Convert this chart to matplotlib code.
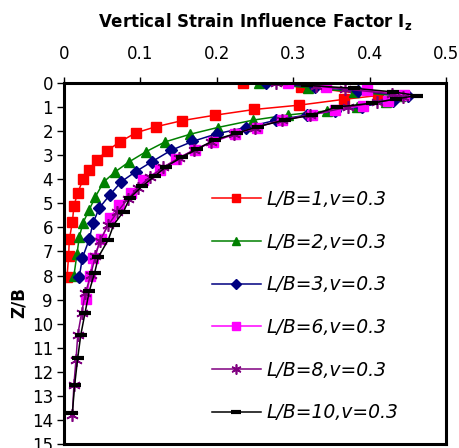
#!/usr/bin/env python3
"""Vertical strain influence factor against depth for several L/B ratios."""

import matplotlib

matplotlib.use("Agg")
import matplotlib.pyplot as plt  # type: ignore

# depth ratio Z/B and influence factor Iz, one pair of lists per L/B
z_lb1 = [0, 0.15, 0.52, 0.68, 0.92, 1.1, 1.34, 1.56, 1.82, 2.07, 2.45, 2.82,
         3.2, 3.6, 4.0, 4.56, 5.1, 5.77, 6.5, 7.2, 8.05]
iz_lb1 = [0.234, 0.31, 0.411, 0.366, 0.308, 0.249, 0.197, 0.155, 0.12, 0.094,
          0.073, 0.056, 0.043, 0.033, 0.025, 0.018, 0.013, 0.011, 0.007, 0.006,
          0.004]

z_lb2 = [0, 0.2, 0.37, 0.55, 0.78, 1.0, 1.16, 1.33, 1.54, 1.85, 2.13, 2.45,
         2.86, 3.28, 3.69, 4.11, 4.73, 5.27, 5.8, 6.4, 7.1, 8.0]
iz_lb2 = [0.255, 0.32, 0.38, 0.44, 0.422, 0.383, 0.344, 0.293, 0.248, 0.201,
          0.165, 0.132, 0.107, 0.085, 0.067, 0.052, 0.041, 0.033, 0.025, 0.02,
          0.017, 0.013]

z_lb3 = [0, 0.17, 0.32, 0.55, 0.75, 0.98, 1.15, 1.33, 1.54, 1.85, 2.11, 2.43,
         2.8, 3.27, 3.68, 4.1, 4.65, 5.2, 5.82, 6.5, 7.27, 8.06]
iz_lb3 = [0.264, 0.329, 0.385, 0.45, 0.43, 0.39, 0.355, 0.318, 0.278, 0.238,
          0.2, 0.168, 0.14, 0.115, 0.094, 0.075, 0.06, 0.046, 0.038, 0.033,
          0.024, 0.02]

z_lb6 = [0, 0.18, 0.29, 0.5, 0.73, 0.94, 1.12, 1.33, 1.54, 1.85, 2.12, 2.45,
         2.78, 3.17, 3.61, 4.02, 4.55, 5.06, 5.61, 6.5, 7.27, 8.04, 8.97]
iz_lb6 = [0.293, 0.343, 0.396, 0.445, 0.424, 0.391, 0.355, 0.324, 0.285,
          0.252, 0.224, 0.195, 0.171, 0.147, 0.126, 0.104, 0.088, 0.072, 0.06,
          0.049, 0.038, 0.034, 0.029]

z_lb8 = [0, 0.12, 0.25, 0.45, 0.6, 0.8, 1.0, 1.33, 1.54, 1.85, 2.13, 2.45,
         2.78, 3.12, 3.5, 3.9, 4.35, 4.8, 5.35, 5.9, 6.55, 7.2, 7.97, 8.73,
         9.56, 10.46, 11.5, 12.53, 13.78]
iz_lb8 = [0.278, 0.33, 0.368, 0.429, 0.444, 0.41, 0.372, 0.322, 0.285, 0.25,
          0.222, 0.193, 0.17, 0.15, 0.13, 0.113, 0.097, 0.084, 0.07, 0.058,
          0.047, 0.041, 0.035, 0.028, 0.023, 0.018, 0.0157, 0.013, 0.011]

z_lb10 = [0, 0.1, 0.22, 0.37, 0.52, 0.66, 0.84, 1.0, 1.33, 1.54, 1.81, 2.09,
          2.35, 2.75, 3.08, 3.47, 3.86, 4.3, 4.78, 5.34, 5.89, 6.51, 7.23, 7.9,
          8.66, 9.56, 10.46, 11.42, 12.53, 13.7]
iz_lb10 = [0.285, 0.318, 0.38, 0.431, 0.462, 0.435, 0.403, 0.357, 0.324,
           0.289, 0.254, 0.226, 0.198, 0.174, 0.154, 0.134, 0.119, 0.102,
           0.086, 0.078, 0.065, 0.058, 0.045, 0.04, 0.033, 0.0275, 0.022,
           0.018, 0.014, 0.011]

labels = ["L/B=1,v=0.3", "L/B=2,v=0.3", "L/B=3,v=0.3",
          "L/B=6,v=0.3", "L/B=8,v=0.3", "L/B=10,v=0.3"]
x_ticks = [0, 0.1, 0.2, 0.3, 0.4, 0.5]
x_ticklabels = ["0", "0.1", "0.2", "0.3", "0.4", "0.5"]
y_ticks = list(range(0, 16))


def main():
    """Draw the chart."""
    plt.rcParams["font.family"] = "DejaVu Sans"
    plt.rcParams["mathtext.fontset"] = "dejavusans"

    fig = plt.figure(figsize=(4.6, 4.48), dpi=100)
    axes = fig.add_axes([64 / 460, 1 - 444 / 448, 382 / 460, 361 / 448])

    series = [
        (z_lb1, iz_lb1, "#ff0000", dict(marker="s", ms=6.5)),
        (z_lb2, iz_lb2, "#008000", dict(marker="^", ms=7.5)),
        (z_lb3, iz_lb3, "#000080", dict(marker="D", ms=6)),
        (z_lb6, iz_lb6, "#ff00ff", dict(marker="s", ms=6.5)),
        (z_lb8, iz_lb8, "#800080", dict(marker=(6, 2, 0), ms=9, mew=1.2)),
        (z_lb10, iz_lb10, "#000000", dict(marker="_", ms=9, mew=3)),
    ]
    for (zs, izs, colour, style), label in zip(series, labels):
        axes.plot(izs, zs, color=colour, lw=1.1, mfc=colour, mec=colour,
                  label=label, **style)

    axes.set_xlim(0, 0.5)
    axes.set_ylim(15, 0)
    axes.xaxis.set_ticks_position("top")
    axes.xaxis.set_label_position("top")
    axes.set_xticks(x_ticks)
    axes.set_xticklabels(x_ticklabels)
    axes.set_yticks(y_ticks)
    axes.tick_params(axis="x", direction="out", length=4, width=1, pad=10.5,
                     labelsize=12)
    axes.tick_params(axis="y", direction="out", length=5, width=1, pad=3,
                     labelsize=12)
    for spine in axes.spines.values():
        spine.set_linewidth(2.2)

    axes.set_xlabel(r"Vertical Strain Influence Factor $\mathbf{I_z}$",
                    fontsize=12, fontweight="bold", labelpad=13)
    axes.set_ylabel("Z/B", fontsize=12, fontweight="bold")
    axes.yaxis.set_label_coords(-0.095, 0.393)

    axes.legend(loc="center left", bbox_to_anchor=(0.387, 0.382),
                frameon=False, prop={"style": "italic", "size": 13.5},
                handlelength=2.6, handletextpad=0.33, labelspacing=1.26,
                borderpad=0, borderaxespad=0, numpoints=1, markerscale=0.8)

    fig.savefig("out.png", dpi=100)


if __name__ == "__main__":
    main()
